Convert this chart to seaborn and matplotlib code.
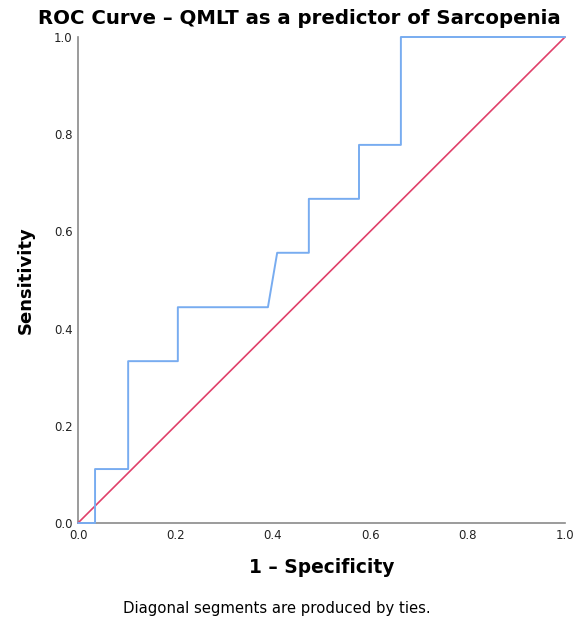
import pandas as pd
import numpy as np
import matplotlib
matplotlib.use('Agg')
import matplotlib.pyplot as plt
import seaborn as sns

# ROC points
fpr = [0.0, 0.035, 0.035, 0.103, 0.103, 0.205, 0.205, 0.390, 0.409, 0.474, 0.474, 0.577, 0.577, 0.663, 0.663, 1.0]
tpr = [0.0, 0.0, 0.111, 0.111, 0.333, 0.333, 0.444, 0.444, 0.556, 0.556, 0.667, 0.667, 0.778, 0.778, 1.0, 1.0]
ref_x = [0.0, 1.0]
ref_y = [0.0, 1.0]
ticks = [0.0, 0.2, 0.4, 0.6, 0.8, 1.0]

roc = pd.DataFrame({'fpr': fpr, 'tpr': tpr})
ref = pd.DataFrame({'x': ref_x, 'y': ref_y})

sns.set_style('white')
plt.rcParams['font.family'] = ['DejaVu Sans']

fig = plt.figure(figsize=(5.79, 6.24), dpi=100)
ax = fig.add_axes([78/579, 1-523/624, 487/579, 486/624])

sns.lineplot(data=ref, x='x', y='y', ax=ax, color='#e0406a', lw=1.2, estimator=None, sort=False)
sns.lineplot(data=roc, x='fpr', y='tpr', ax=ax, color='#78acf0', lw=1.4, estimator=None, sort=False)
for ln in ax.lines:
    ln.set_clip_on(False)
    ln.set_zorder(3)

ax.set_xlim(0, 1)
ax.set_ylim(0, 1)
ax.set_xticks(ticks)
ax.set_yticks(ticks)
ax.set_xticklabels([f'{t:.1f}' for t in ticks], fontsize=8.5, color='#222222')
ax.set_yticklabels([f'{t:.1f}' for t in ticks], fontsize=8.5, color='#222222')
ax.tick_params(length=0, pad=4)
for s in ['top', 'right']:
    ax.spines[s].set_visible(False)
for s in ['left', 'bottom']:
    ax.spines[s].set_color('#8a8a8a')
    ax.spines[s].set_linewidth(1.2)
    ax.spines[s].set_zorder(2)

ax.set_xlabel('1 – Specificity', fontsize=13.4, fontweight='bold', labelpad=12, color='black')
ax.set_ylabel('Sensitivity', fontsize=13, fontweight='bold', labelpad=14, color='black')
fig.text(299/579, 1-18/624, 'ROC Curve – QMLT as a predictor of Sarcopenia', ha='center', va='center',
         fontsize=14.2, fontweight='bold', color='black')
fig.text(277/579, 1-608/624, 'Diagonal segments are produced by ties.', ha='center', va='center',
         fontsize=10.7, color='black')

fig.savefig('out.png', dpi=100)
